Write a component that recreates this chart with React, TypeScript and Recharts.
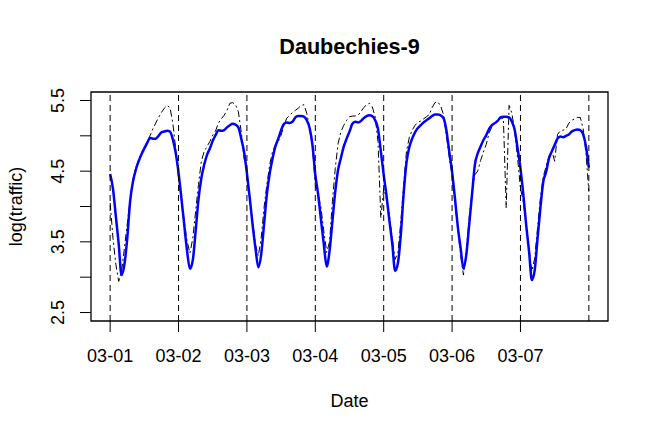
import React from 'react';
import { LineChart, Line, XAxis, YAxis, ReferenceLine, ReferenceArea } from 'recharts';

const FONT = '"Liberation Sans", Arial, Helvetica, sans-serif';

const dayLabels = ['03-01', '03-02', '03-03', '03-04', '03-05', '03-06', '03-07'];
const dayStarts = [0, 24, 48, 72, 96, 120, 144, 168];
const yTicks = [2.5, 3, 3.5, 4, 4.5, 5, 5.5];
const yLabelled = [2.5, 3.5, 4.5, 5.5];

// observed log(traffic), hourly, one array per day
const obsDay1 = [4.05, 3.55, 3.18, 2.94, 3.08, 3.41, 3.75, 4.10, 4.38, 4.55, 4.66, 4.76, 4.84, 4.92, 5.00, 5.10, 5.18, 5.26, 5.33, 5.39, 5.43, 5.40, 5.18, 4.82];
const obsDay2 = [4.40, 4.10, 3.79, 3.51, 3.34, 3.55, 3.93, 4.31, 4.64, 4.78, 4.85, 4.92, 5.01, 5.07, 5.18, 5.24, 5.29, 5.36, 5.46, 5.47, 5.44, 5.34, 5.06, 4.68];
const obsDay3 = [4.52, 4.12, 3.79, 3.46, 3.30, 3.55, 3.98, 4.31, 4.59, 4.78, 4.87, 4.92, 5.01, 5.15, 5.25, 5.29, 5.33, 5.36, 5.39, 5.43, 5.44, 5.32, 5.11, 4.85];
const obsDay4 = [4.30, 4.17, 3.98, 3.65, 3.35, 3.50, 4.07, 4.54, 4.89, 5.06, 5.15, 5.22, 5.27, 5.28, 5.28, 5.29, 5.34, 5.40, 5.44, 5.46, 5.41, 5.27, 4.92, 3.84];
const obsDay5 = [4.25, 4.10, 3.88, 3.55, 3.25, 3.35, 3.78, 4.30, 4.78, 4.98, 5.08, 5.15, 5.19, 5.21, 5.24, 5.27, 5.30, 5.40, 5.47, 5.48, 5.42, 5.30, 5.00, 4.70];
const obsDay6 = [4.45, 4.07, 3.67, 3.32, 3.03, 3.37, 3.84, 4.21, 4.45, 4.50, 4.65, 4.77, 4.88, 5.04, 5.13, 5.18, 5.22, 5.25, 5.25, 3.98, 5.43, 5.32, 5.05, 4.68];
const obsDay7 = [4.26, 4.07, 3.74, 3.41, 3.08, 3.27, 3.70, 4.12, 4.42, 4.57, 4.71, 4.79, 4.64, 5.02, 5.07, 5.08, 5.10, 5.18, 5.22, 5.24, 5.26, 5.26, 5.10, 4.75];
const obsLast = 4.21;

// Daubechies-9 reconstruction, hourly
const fitDay1 = [4.46, 4.25, 3.86, 3.47, 3.03, 3.18, 3.55, 4.07, 4.35, 4.52, 4.64, 4.74, 4.82, 4.90, 4.97, 4.96, 4.96, 5.00, 5.05, 5.06, 5.07, 5.06, 4.95, 4.76];
const fitDay2 = [4.48, 4.12, 3.74, 3.37, 3.12, 3.24, 3.65, 4.10, 4.40, 4.59, 4.73, 4.82, 4.93, 5.01, 5.08, 5.07, 5.08, 5.12, 5.15, 5.17, 5.16, 5.12, 4.96, 4.77];
const fitDay3 = [4.47, 4.12, 3.74, 3.41, 3.14, 3.32, 3.74, 4.17, 4.47, 4.68, 4.85, 4.96, 5.08, 5.17, 5.19, 5.18, 5.20, 5.26, 5.28, 5.28, 5.27, 5.22, 5.11, 4.87];
const fitDay4 = [4.45, 4.17, 3.81, 3.46, 3.15, 3.37, 3.79, 4.21, 4.52, 4.69, 4.85, 4.96, 5.06, 5.17, 5.20, 5.19, 5.21, 5.25, 5.28, 5.29, 5.28, 5.22, 5.10, 4.78];
const fitDay5 = [4.45, 4.15, 3.80, 3.48, 3.09, 3.20, 3.60, 4.18, 4.62, 4.84, 4.96, 5.05, 5.11, 5.15, 5.19, 5.22, 5.25, 5.28, 5.30, 5.30, 5.29, 5.25, 5.08, 4.78];
const fitDay6 = [4.49, 4.12, 3.72, 3.41, 3.12, 3.32, 3.74, 4.17, 4.59, 4.75, 4.85, 4.94, 5.01, 5.10, 5.15, 5.18, 5.21, 5.26, 5.27, 5.27, 5.26, 5.20, 5.08, 4.82];
const fitDay7 = [4.54, 4.17, 3.74, 3.37, 2.96, 3.10, 3.55, 3.98, 4.35, 4.49, 4.68, 4.78, 4.87, 4.96, 4.99, 4.98, 5.00, 5.02, 5.06, 5.08, 5.09, 5.08, 5.02, 4.85];
const fitLast = 4.55;

const observed = [...obsDay1, ...obsDay2, ...obsDay3, ...obsDay4, ...obsDay5, ...obsDay6, ...obsDay7, obsLast];
const fitted = [...fitDay1, ...fitDay2, ...fitDay3, ...fitDay4, ...fitDay5, ...fitDay6, ...fitDay7, fitLast];

const data = observed.map((v, i) => ({ hour: i, observed: v, fitted: fitted[i] }));

// R-style 4% padding around the data range
const xDomain = [-0.04 * 168, 168 * 1.04];
const yDomain = [2.5 - 0.12, 5.5 + 0.12];

const XTick = (props: any) => {
  const { x, y, payload } = props;
  const label = dayLabels[Math.round(payload.value / 24)];
  return (
    <text x={x} y={y + 27.5} textAnchor="middle" fontSize={18} fontFamily={FONT} fill="#000">
      {label}
    </text>
  );
};

const YTick = (props: any) => {
  const { x, y, payload } = props;
  if (!yLabelled.includes(payload.value)) return null;
  return (
    <text transform={`translate(${x - 14.5},${y}) rotate(-90)`} textAnchor="middle" fontSize={18} fontFamily={FONT} fill="#000">
      {payload.value.toFixed(1)}
    </text>
  );
};

export default function App() {
  return (
    <div style={{ position: 'absolute', left: 0, top: 0, width: 654, height: 436, background: '#fff' }}>
      <LineChart width={654} height={436} data={data} margin={{ top: 92, right: 46, bottom: 0, left: 0 }}>
        <XAxis
          dataKey="hour"
          type="number"
          domain={xDomain}
          allowDataOverflow
          ticks={dayStarts.slice(0, 7)}
          interval={0}
          height={115}
          tickSize={11}
          tickMargin={2}
          axisLine={false}
          tickLine={{ stroke: '#000', strokeWidth: 1 }}
          tick={<XTick />}
        />
        <YAxis
          type="number"
          domain={yDomain}
          allowDataOverflow
          ticks={yTicks}
          interval={0}
          width={91}
          tickSize={11}
          tickMargin={2}
          axisLine={false}
          tickLine={{ stroke: '#000', strokeWidth: 1 }}
          tick={<YTick />}
        />
        <ReferenceArea x1={xDomain[0]} x2={xDomain[1]} y1={yDomain[0]} y2={yDomain[1]} fill="none" fillOpacity={0} stroke="#000" strokeWidth={1.3} />
        <Line
          dataKey="observed"
          type="linear"
          stroke="#000"
          strokeWidth={1}
          strokeDasharray="7 3 2 3"
          dot={false}
          activeDot={false}
          isAnimationActive={false}
        />
        <Line
          dataKey="fitted"
          type="monotone"
          stroke="#0000ff"
          strokeWidth={2.5}
          dot={false}
          activeDot={false}
          isAnimationActive={false}
        />
        {dayStarts.map(d => (
          <ReferenceLine key={d} x={d} stroke="#000" strokeWidth={1} strokeDasharray="6 4" />
        ))}
      </LineChart>
      <svg width={654} height={436} style={{ position: 'absolute', left: 0, top: 0, pointerEvents: 'none' }}>
        <text x={349.5} y={53.5} textAnchor="middle" fontSize={21.6} fontWeight="bold" fontFamily={FONT} fill="#000">
          Daubechies-9
        </text>
        <text x={349.5} y={406.5} textAnchor="middle" fontSize={18} fontFamily={FONT} fill="#000">
          Date
        </text>
        <text transform="translate(22,206.5) rotate(-90)" textAnchor="middle" fontSize={18} fontFamily={FONT} fill="#000">
          log(traffic)
        </text>
      </svg>
    </div>
  );
}
